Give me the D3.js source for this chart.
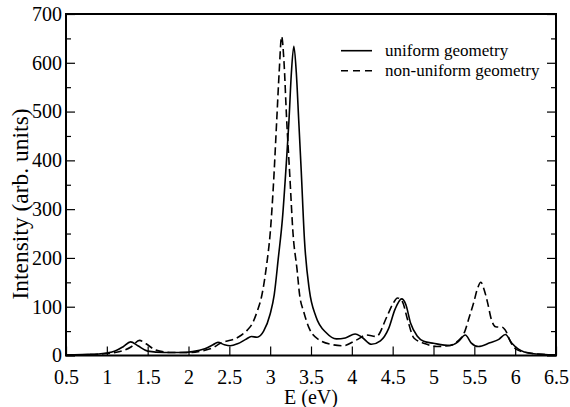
<!DOCTYPE html>
<html lang="en">
	<head>
		<meta charset="utf-8">
		<title>Intensity vs E</title>
		<script type="text/javascript" src="https://cdn.jsdelivr.net/npm/d3@7"></script>
		<style type="text/css">
			body { margin: 0; background: white; }
			svg text { font-family: "Liberation Serif", "Times New Roman", serif; fill: black; }
			.axis path { display: none; }
			.axis line { stroke: black; stroke-width: 1.2; }
		</style>
	</head>
	<body>
		<script type="text/javascript">

			//Data
			let energyUniform = [0.5, 0.7, 0.9, 1.0, 1.1, 1.2, 1.29, 1.38, 1.5, 1.7, 1.9, 2.05, 2.2, 2.3, 2.36, 2.44, 2.51, 2.6, 2.7, 2.77, 2.84, 2.92, 3.0, 3.05, 3.1, 3.15, 3.2, 3.23, 3.26, 3.29, 3.32, 3.35, 3.38, 3.42, 3.48, 3.56, 3.69, 3.81, 3.92, 4.04, 4.12, 4.24, 4.35, 4.45, 4.53, 4.61, 4.66, 4.72, 4.8, 4.88, 5.0, 5.2, 5.3, 5.39, 5.46, 5.55, 5.69, 5.8, 5.88, 5.96, 6.04, 6.2, 6.5];
			let intensityUniform = [1, 2, 3, 5, 9, 18, 28, 20, 9, 6, 6, 8, 14, 22, 27, 22, 20, 24, 33, 39, 37.5, 50, 85, 125, 200, 280, 400, 481, 580, 634, 580, 481, 380, 237, 134, 80, 46, 34, 36, 44, 38, 23, 30, 55, 95, 116, 105, 66, 40, 29, 25, 20.5, 28, 42, 26, 18.5, 26, 33, 43, 25, 13, 4, 1];

			let energyNonUniform = [0.5, 0.7, 0.9, 1.0, 1.1, 1.2, 1.3, 1.4, 1.48, 1.6, 1.8, 2.0, 2.15, 2.3, 2.39, 2.46, 2.55, 2.65, 2.72, 2.78, 2.84, 2.9, 2.96, 3.0, 3.04, 3.08, 3.11, 3.14, 3.17, 3.2, 3.24, 3.28, 3.33, 3.36, 3.41, 3.48, 3.6, 3.77, 3.89, 4.06, 4.18, 4.3, 4.43, 4.5, 4.56, 4.62, 4.68, 4.76, 4.9, 5.04, 5.2, 5.3, 5.38, 5.44, 5.49, 5.54, 5.58, 5.62, 5.66, 5.71, 5.76, 5.84, 5.89, 5.94, 6.02, 6.18, 6.5];
			let intensityNonUniform = [1, 1.5, 2.5, 4, 6, 10, 18, 31, 24, 11, 6, 6, 9, 16, 25, 29, 33, 42, 52, 65, 90, 125, 190, 250, 350, 481, 580, 654, 600, 490, 370, 250, 175, 125, 90, 55, 32, 22, 20, 32, 42, 39, 80, 105, 118, 110, 75, 36, 24, 18.5, 20.5, 30, 48, 80, 107, 138, 150, 135, 110, 73, 59, 58, 49, 29, 12, 5, 1];

			let xTicks = [0.5, 1, 1.5, 2, 2.5, 3, 3.5, 4, 4.5, 5, 5.5, 6, 6.5];
			let yTicks = [0, 100, 200, 300, 400, 500, 600, 700];
			let yMinorTicks = [50, 150, 250, 350, 450, 550, 650];

			let seriesNames = ["uniform geometry", "non-uniform geometry"];

			//Width and height
			let w = 570;
			let h = 407;
			let margin = { top: 14, right: 14, bottom: 51.5, left: 66 };
			let pw = w - margin.left - margin.right;
			let ph = h - margin.top - margin.bottom;

			let x = d3.scaleLinear().domain([0.5, 6.5]).range([0, pw]);
			let y = d3.scaleLinear().domain([0, 700]).range([ph, 0]);

			let svg = d3.select("body")
						.append("svg")
						  .attr("width", w)
						  .attr("height", h);

			let g = svg.append("g")
						.attr("transform", `translate(${margin.left},${margin.top})`);

			//Axes, ticks pointing inward
			g.append("g")
			  .attr("class", "axis")
			  .attr("transform", `translate(0,${ph})`)
			  .call(d3.axisBottom(x).tickValues(xTicks).tickSize(-9).tickPadding(14).tickFormat(d3.format("")))
			  .attr("font-size", 20);

			g.append("g")
			  .attr("class", "axis")
			  .call(d3.axisLeft(y).tickValues(yTicks).tickSize(-9).tickPadding(4))
			  .attr("font-size", 20);

			g.append("g")
			  .attr("class", "axis")
			  .call(d3.axisLeft(y).tickValues(yMinorTicks).tickSize(-5).tickFormat(""));

			g.append("g")
			  .attr("class", "axis")
			  .attr("transform", `translate(${pw},0)`)
			  .call(d3.axisRight(y).tickValues(yTicks).tickSize(-9).tickFormat(""));

			g.append("g")
			  .attr("class", "axis")
			  .attr("transform", `translate(${pw},0)`)
			  .call(d3.axisRight(y).tickValues(yMinorTicks).tickSize(-5).tickFormat(""));

			//Curves
			let line = d3.line()
						.x(d => x(d[0]))
						.y(d => y(d[1]))
						.curve(d3.curveMonotoneX);

			g.append("path")
			  .datum(d3.zip(energyUniform, intensityUniform))
			  .attr("fill", "none")
			  .attr("stroke", "black")
			  .attr("stroke-width", 1.6)
			  .attr("d", line);

			g.append("path")
			  .datum(d3.zip(energyNonUniform, intensityNonUniform))
			  .attr("fill", "none")
			  .attr("stroke", "black")
			  .attr("stroke-width", 1.6)
			  .attr("stroke-dasharray", "8,4")
			  .attr("d", line);

			//Frame
			g.append("rect")
			  .attr("width", pw)
			  .attr("height", ph)
			  .attr("fill", "none")
			  .attr("stroke", "black")
			  .attr("stroke-width", 2);

			//Legend
			let legend = g.selectAll("g.legend")
						    .data(seriesNames)
						    .enter()
						  .append("g")
						    .attr("class", "legend")
						    .attr("transform", (d, i) => `translate(${341 - margin.left},${50.7 - margin.top + i * 20})`);

			legend.append("line")
			  .attr("x1", 0)
			  .attr("x2", 31)
			  .attr("stroke", "black")
			  .attr("stroke-width", 1.6)
			  .attr("stroke-dasharray", (d, i) => i ? "7,5" : null);

			legend.append("text")
			  .attr("x", 44)
			  .attr("y", 5)
			  .attr("font-size", 17)
			  .text(d => d);

			//Axis titles
			svg.append("text")
			  .attr("x", margin.left + pw / 2)
			  .attr("y", 404)
			  .attr("text-anchor", "middle")
			  .attr("font-size", 20)
			  .text("E (eV)");

			svg.append("text")
			  .attr("transform", `translate(28,204) rotate(-90)`)
			  .attr("text-anchor", "middle")
			  .attr("font-size", 23.5)
			  .text("Intensity (arb. units)");

		</script>
	</body>
</html>
